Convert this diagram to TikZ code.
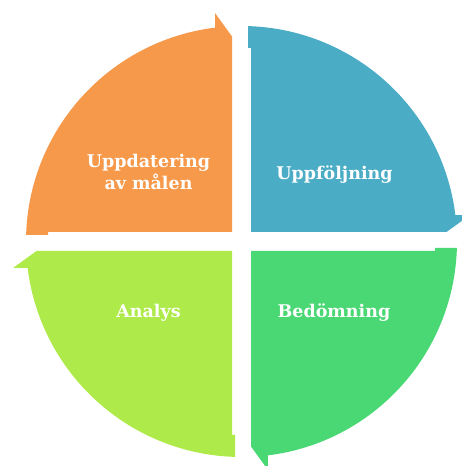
\documentclass[tikz,border=0pt]{standalone}
\usepackage{fontspec}
\setmainfont{DejaVu Serif}
\definecolor{qorange}{HTML}{F6994A}
\definecolor{qblue}{HTML}{4BACC6}
\definecolor{qgreen}{HTML}{4AD874}
\definecolor{qlime}{HTML}{AEEA4A}
\tikzset{
  quadpic/.pic={
    \fill[pic actions] (-9.5,9.5) -- (-193.5,9.5) -- (-193.5,6.5) -- (178.27:215.5)
      arc[start angle=178.27,end angle=97.06,radius=215.5]
      -- (-26.5,228.5) -- (-9.5,205) -- cycle;
  },
  lbl/.style={text=white,font=\bfseries\fontsize{17.5}{22}\selectfont,align=center,anchor=base,inner sep=0pt}
}
\begin{document}
\begin{tikzpicture}[x=1pt,y=1pt]
\useasboundingbox (0,0) rectangle (462,466);
\clip (0,0) rectangle (462,466);
\pic[fill=qorange] (porange) at (241.5,224.5) {quadpic};
\pic[fill=qblue,rotate=-90] (pblue) at (241.5,224.5) {quadpic};
\pic[fill=qgreen,rotate=-180] (pgreen) at (241.5,224.5) {quadpic};
\pic[fill=qlime,rotate=-270] (plime) at (241.5,224.5) {quadpic};
\node[lbl] (tupd) at (148.5,276) {Uppdatering\\av målen};
\node[lbl] (tupf) at (334.5,286) {Uppföljning};
\node[lbl] (tbed) at (334,148) {Bedömning};
\node[lbl] (tana) at (148.5,148) {Analys};
\end{tikzpicture}
\end{document}
